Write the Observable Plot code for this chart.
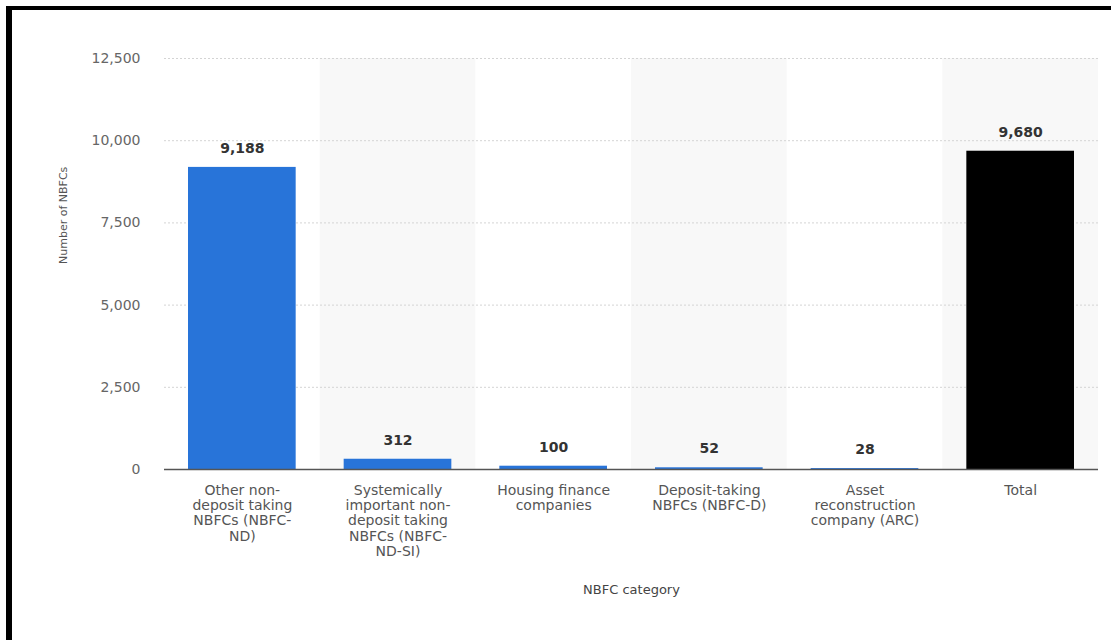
<!DOCTYPE html>
<html>
<head>
<meta charset="utf-8">
<script src="https://cdn.jsdelivr.net/npm/d3@7"></script>
<script src="https://cdn.jsdelivr.net/npm/@observablehq/plot@0.6"></script>
<style>
  html, body { margin: 0; padding: 0; background: #fff; }
  #wrap { position: relative; width: 1111px; height: 640px; overflow: hidden; }
  #border { position: absolute; left: 6px; top: 6px; right: -10px; bottom: -10px;
            border-left: 6px solid #000; border-top: 4px solid #000; pointer-events: none; }
</style>
</head>
<body>
<div id="wrap"><div id="chart"></div><div id="border"></div></div>
<script>
const categories = [
  "Other non-deposit taking NBFCs (NBFC-ND)",
  "Systemically important non-deposit taking NBFCs (NBFC-ND-SI)",
  "Housing finance companies",
  "Deposit-taking NBFCs (NBFC-D)",
  "Asset reconstruction company (ARC)",
  "Total"
];
const tickLabels = [
  "Other non-\ndeposit taking\nNBFCs (NBFC-\nND)",
  "Systemically\nimportant non-\ndeposit taking\nNBFCs (NBFC-\nND-SI)",
  "Housing finance\ncompanies",
  "Deposit-taking\nNBFCs (NBFC-D)",
  "Asset\nreconstruction\ncompany (ARC)",
  "Total"
];
const values = [9188, 312, 100, 52, 28, 9680];
const yTicks = [0, 2500, 5000, 7500, 10000, 12500];
const yLabel = "Number of NBFCs";
const xLabel = "NBFC category";

const data = categories.map((c, i) => ({category: c, value: values[i]}));
const labelMap = new Map(categories.map((c, i) => [c, tickLabels[i]]));
const shaded = categories.filter((c, i) => i % 2 === 1);
const yMax = yTicks[yTicks.length - 1];

const chart = Plot.plot({
  width: 1111,
  height: 640,
  marginLeft: 164,
  marginRight: 13,
  marginTop: 58,
  marginBottom: 171,
  style: {fontFamily: "DejaVu Sans", fontSize: "14px", background: "#fff", color: "#555"},
  x: {domain: categories, padding: 0, round: false, label: null},
  y: {domain: [0, yMax], label: null},
  marks: [
    Plot.barY(shaded, {x: d => d, y1: 0, y2: yMax, fill: "#f8f8f8"}),
    Plot.ruleY(yTicks.filter(t => t > 0), {stroke: "#d4d4d4", strokeDasharray: "2,2", strokeWidth: 1}),
    Plot.barY(data, {x: "category", y: "value", insetLeft: 24, insetRight: 24,
      fill: d => d.category === "Total" ? "#000000" : "#2874d9"}),
    Plot.ruleY([0], {stroke: "#555", strokeWidth: 1.5}),
    Plot.text(data, {x: "category", y: "value", text: d => d3.format(",")(d.value),
      dy: -19, fontSize: 14, fontWeight: "bold", fill: "#333"}),
    Plot.axisY({ticks: yTicks, tickFormat: d3.format(","), tickSize: 0, tickPadding: 24,
      fontSize: 14, color: "#666", label: null}),
    Plot.axisX({tickSize: 0, tickPadding: 15, tickFormat: d => labelMap.get(d),
      fontSize: 14, lineHeight: 1.08, color: "#555", label: null}),
    Plot.text([yLabel], {frameAnchor: "left", dx: -101, rotate: -90, text: d => d,
      fontSize: 11, fill: "#555"}),
    Plot.text([xLabel], {frameAnchor: "bottom", dy: 124, text: d => d,
      fontSize: 13, fill: "#444"})
  ]
});
document.getElementById("chart").appendChild(chart);
</script>
</body>
</html>
